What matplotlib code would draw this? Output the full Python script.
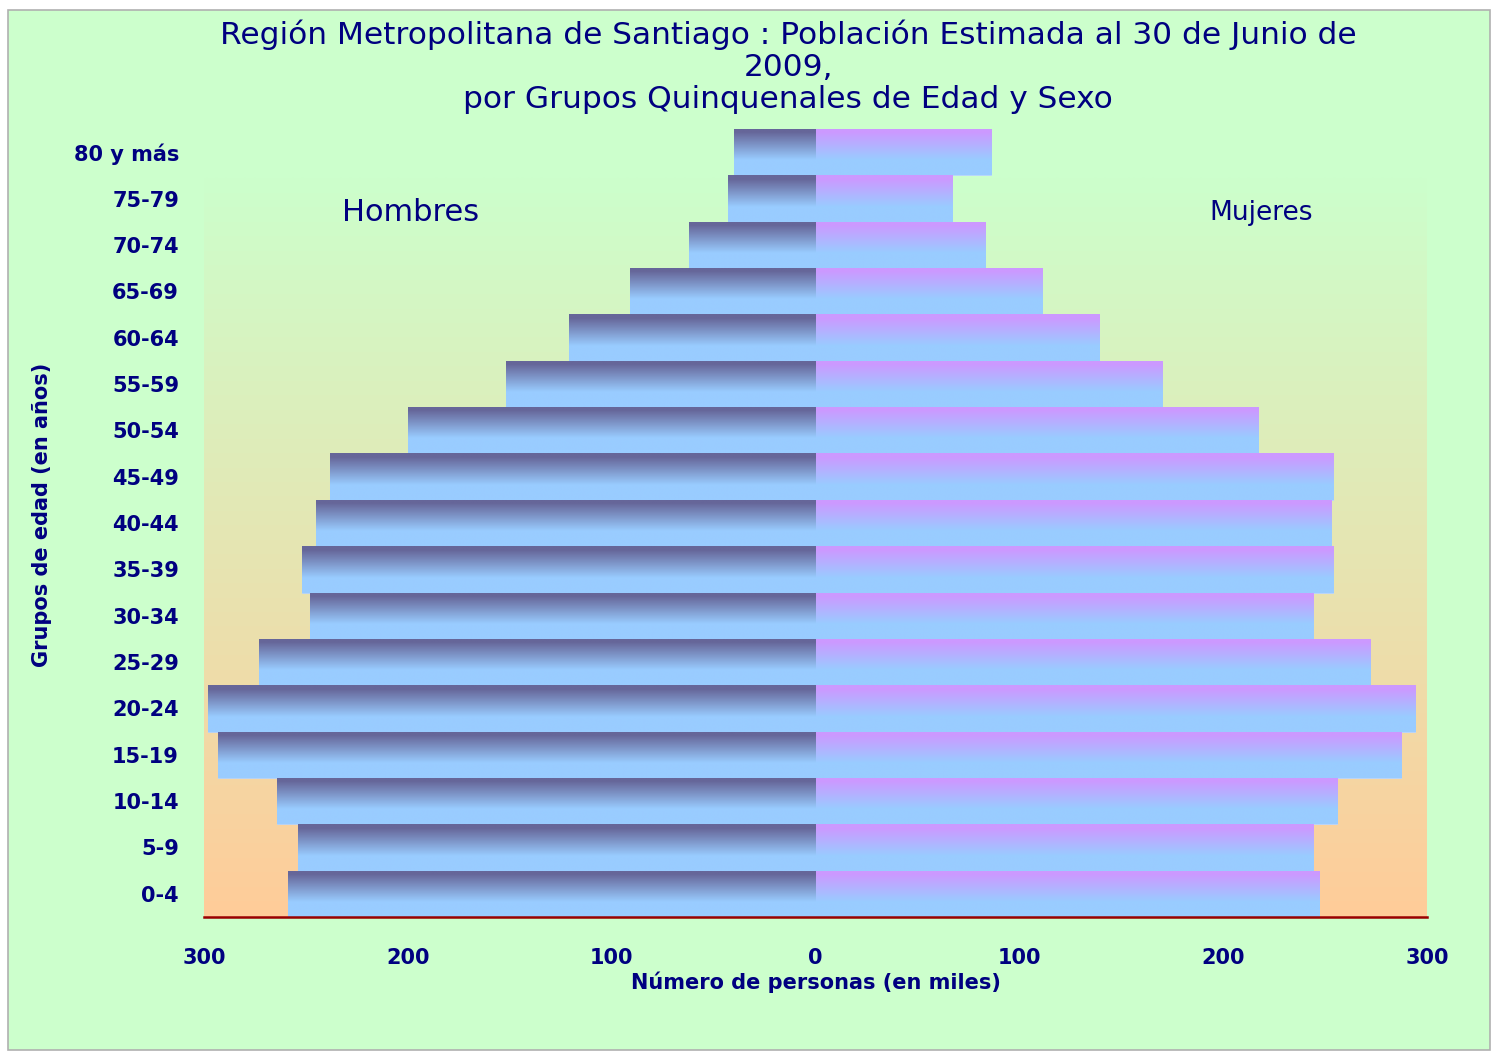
import numpy as np
import matplotlib
matplotlib.use("Agg")
import matplotlib.pyplot as plt
from matplotlib.patches import Rectangle
from matplotlib.colors import to_rgb

# ---- data (miles de personas) ----
grupos = ["0-4", "5-9", "10-14", "15-19", "20-24", "25-29", "30-34", "35-39",
          "40-44", "45-49", "50-54", "55-59", "60-64", "65-69", "70-74", "75-79", "80 y más"]
hombres = [259, 254, 264, 293, 298, 273, 248, 252, 245, 238, 200, 152, 121, 91, 62, 43, 40]
mujeres = [247, 244, 256, 287, 294, 272, 244, 254, 253, 254, 217, 170, 139, 111, 83, 67, 86]
xticks = [-300, -200, -100, 0, 100, 200, 300]
xticklabels = ["300", "200", "100", "0", "100", "200", "300"]

NAVY = "#000080"
W, H = 1493, 1052
fig = plt.figure(figsize=(W / 100, H / 100), dpi=100, facecolor="white")
bg = Rectangle((8 / W, 2 / H), (1482 / W), (1040 / H), transform=fig.transFigure,
               facecolor="#ccffcc", edgecolor="#b0b0b0", linewidth=1.2, zorder=-10)
fig.add_artist(bg)

ax = fig.add_axes([204 / W, 1 - 917 / H, (1427 - 204) / W, (917 - 129) / H])
ax.set_facecolor("none")
n = len(grupos)
ypos = np.arange(n)

# plot-area gradient (green top -> orange bottom)
g_top = np.array(to_rgb("#ccffcc"))
g_bot = np.array(to_rgb("#ffcc99"))
t = np.linspace(0, 1, 256)[:, None]
grad = g_top * (1 - t) + g_bot * t
ax.imshow(grad[:, None, :].repeat(2, axis=1), extent=[-300, 300, -0.5, n - 1.55],
          aspect="auto", zorder=0, interpolation="bilinear")

def bar_gradient(top, bot):
    tt = np.linspace(0, 1, 64)
    s = np.clip((tt - 0.08) / 0.6, 0, 1)[:, None]
    c = np.array(to_rgb(top)) * (1 - s) + np.array(to_rgb(bot)) * s
    return c[:, None, :].repeat(2, axis=1)

gm = bar_gradient("#666699", "#99ccff")
gw = bar_gradient("#cc99ff", "#99ccff")

bars_m = ax.barh(ypos, [-v for v in hombres], height=1.0, color="#8899cc",
                 edgecolor="#b8d8ff", linewidth=0.6, zorder=2)
bars_w = ax.barh(ypos, mujeres, height=1.0, color="#aab0ff",
                 edgecolor="#b8d8ff", linewidth=0.6, zorder=2)
for bars, g in ((bars_m, gm), (bars_w, gw)):
    for b in bars:
        x0, y0 = b.get_x(), b.get_y()
        w, h = b.get_width(), b.get_height()
        im = ax.imshow(g, extent=[min(x0, x0 + w), max(x0, x0 + w), y0, y0 + h],
                       aspect="auto", zorder=3, interpolation="bilinear")
        im.set_clip_path(b)
ax.set_xlim(-300, 300)
ax.set_ylim(-0.5, n - 0.5)

for s in ["top", "right", "left"]:
    ax.spines[s].set_visible(False)
ax.spines["bottom"].set_color("#990000")
ax.spines["bottom"].set_linewidth(1.8)
ax.spines["bottom"].set_zorder(5)

ax.set_xticks(xticks)
ax.set_xticklabels(xticklabels, fontsize=15, fontweight="bold", color=NAVY)
ax.set_yticks(ypos)
ax.set_yticklabels(grupos, fontsize=15, fontweight="bold", color=NAVY)
ax.tick_params(axis="x", length=0, pad=22)
ax.tick_params(axis="y", length=0, pad=18)

ax.set_xlabel("Número de personas (en miles)", fontsize=15, fontweight="bold", color=NAVY, labelpad=3)
fig.text(42 / W, 1 - 515 / H, "Grupos de edad (en años)", rotation=90, ha="center", va="center",
         fontsize=15, fontweight="bold", color=NAVY)

fig.text(788 / W, 1 - 67 / H,
         "Región Metropolitana de Santiago : Población Estimada al 30 de Junio de\n2009,\npor Grupos Quinquenales de Edad y Sexo",
         ha="center", va="center", fontsize=22.5, color=NAVY, linespacing=1.12)

fig.text(411 / W, 1 - 212 / H, "Hombres", ha="center", va="center", fontsize=22, color=NAVY)
fig.text(1261 / W, 1 - 213 / H, "Mujeres", ha="center", va="center", fontsize=19, color=NAVY)

fig.savefig("out.png", dpi=100, facecolor="white")
